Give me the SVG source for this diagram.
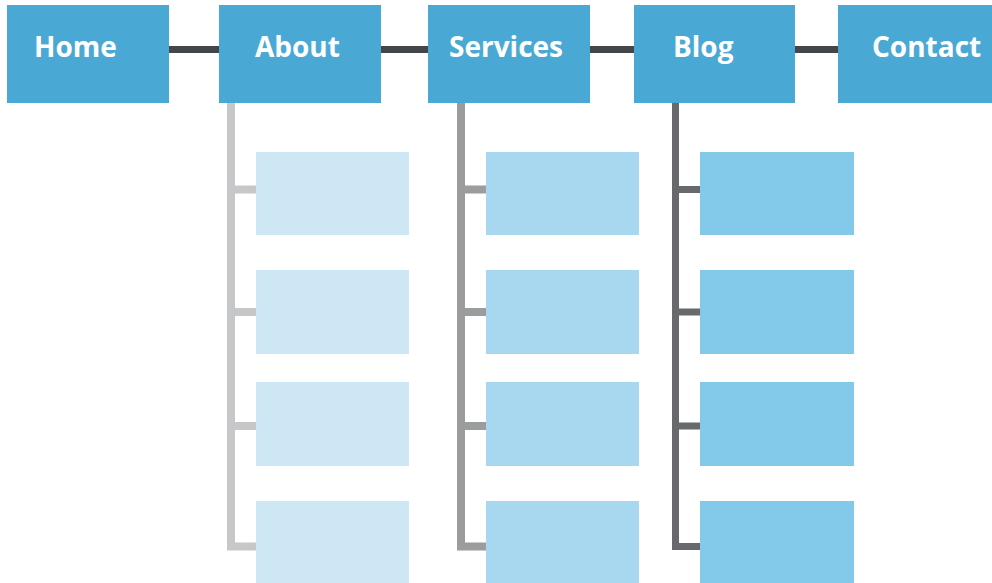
<svg xmlns="http://www.w3.org/2000/svg" width="992" height="583" viewBox="0 0 992 583">
<style>
.top{fill:#4aa9d4}
.lbl{font-family:"Open Sans","Liberation Sans",sans-serif;font-weight:bold;font-size:28px;fill:#ffffff}
.s1{fill:#cde8f4}
.s2{fill:#a8d8ef}
.s3{fill:#82c9ea}
.c0{stroke:#43474b;stroke-width:7;fill:none}
.c1{stroke:#c6c7c8;stroke-width:8;fill:none}
.c2{stroke:#9a9c9e;stroke-width:8;fill:none}
.c3{stroke:#67696d;stroke-width:7;fill:none}
</style>
<rect width="992" height="583" fill="#ffffff"/>
<g id="connectors">
<line class="c0" x1="169" y1="49.5" x2="219" y2="49.5"/>
<line class="c0" x1="381" y1="49.5" x2="428" y2="49.5"/>
<line class="c0" x1="590" y1="49.5" x2="634" y2="49.5"/>
<line class="c0" x1="795" y1="49.5" x2="838" y2="49.5"/>
<path class="c1" d="M231 103 V546.5 H256 M231 189.5 H256 M231 312 H256 M231 426 H256"/>
<path class="c2" d="M461 103 V546.5 H486 M461 189.5 H486 M461 312 H486 M461 426 H486"/>
<path class="c3" d="M675.5 103 V546.5 H700 M675.5 189.5 H700 M675.5 312 H700 M675.5 426 H700"/>
</g>
<g id="home"><rect class="top" x="7" y="5" width="162" height="98"/><text class="lbl" x="34" y="57">Home</text></g>
<g id="about"><rect class="top" x="219" y="5" width="162" height="98"/><text class="lbl" x="255" y="57">About</text></g>
<g id="services"><rect class="top" x="428" y="5" width="162" height="98"/><text class="lbl" x="449" y="57">Services</text></g>
<g id="blog"><rect class="top" x="634" y="5" width="161" height="98"/><text class="lbl" x="673" y="57">Blog</text></g>
<g id="contact"><rect class="top" x="838" y="5" width="162" height="98"/><text class="lbl" x="872" y="57">Contact</text></g>
<g id="about-1"><rect class="s1" x="256" y="152" width="153" height="83"/></g>
<g id="about-2"><rect class="s1" x="256" y="270" width="153" height="84"/></g>
<g id="about-3"><rect class="s1" x="256" y="382" width="153" height="84"/></g>
<g id="about-4"><rect class="s1" x="256" y="501" width="153" height="84"/></g>
<g id="services-1"><rect class="s2" x="486" y="152" width="153" height="83"/></g>
<g id="services-2"><rect class="s2" x="486" y="270" width="153" height="84"/></g>
<g id="services-3"><rect class="s2" x="486" y="382" width="153" height="84"/></g>
<g id="services-4"><rect class="s2" x="486" y="501" width="153" height="84"/></g>
<g id="blog-1"><rect class="s3" x="700" y="152" width="154" height="83"/></g>
<g id="blog-2"><rect class="s3" x="700" y="270" width="154" height="84"/></g>
<g id="blog-3"><rect class="s3" x="700" y="382" width="154" height="84"/></g>
<g id="blog-4"><rect class="s3" x="700" y="501" width="154" height="84"/></g>
</svg>
